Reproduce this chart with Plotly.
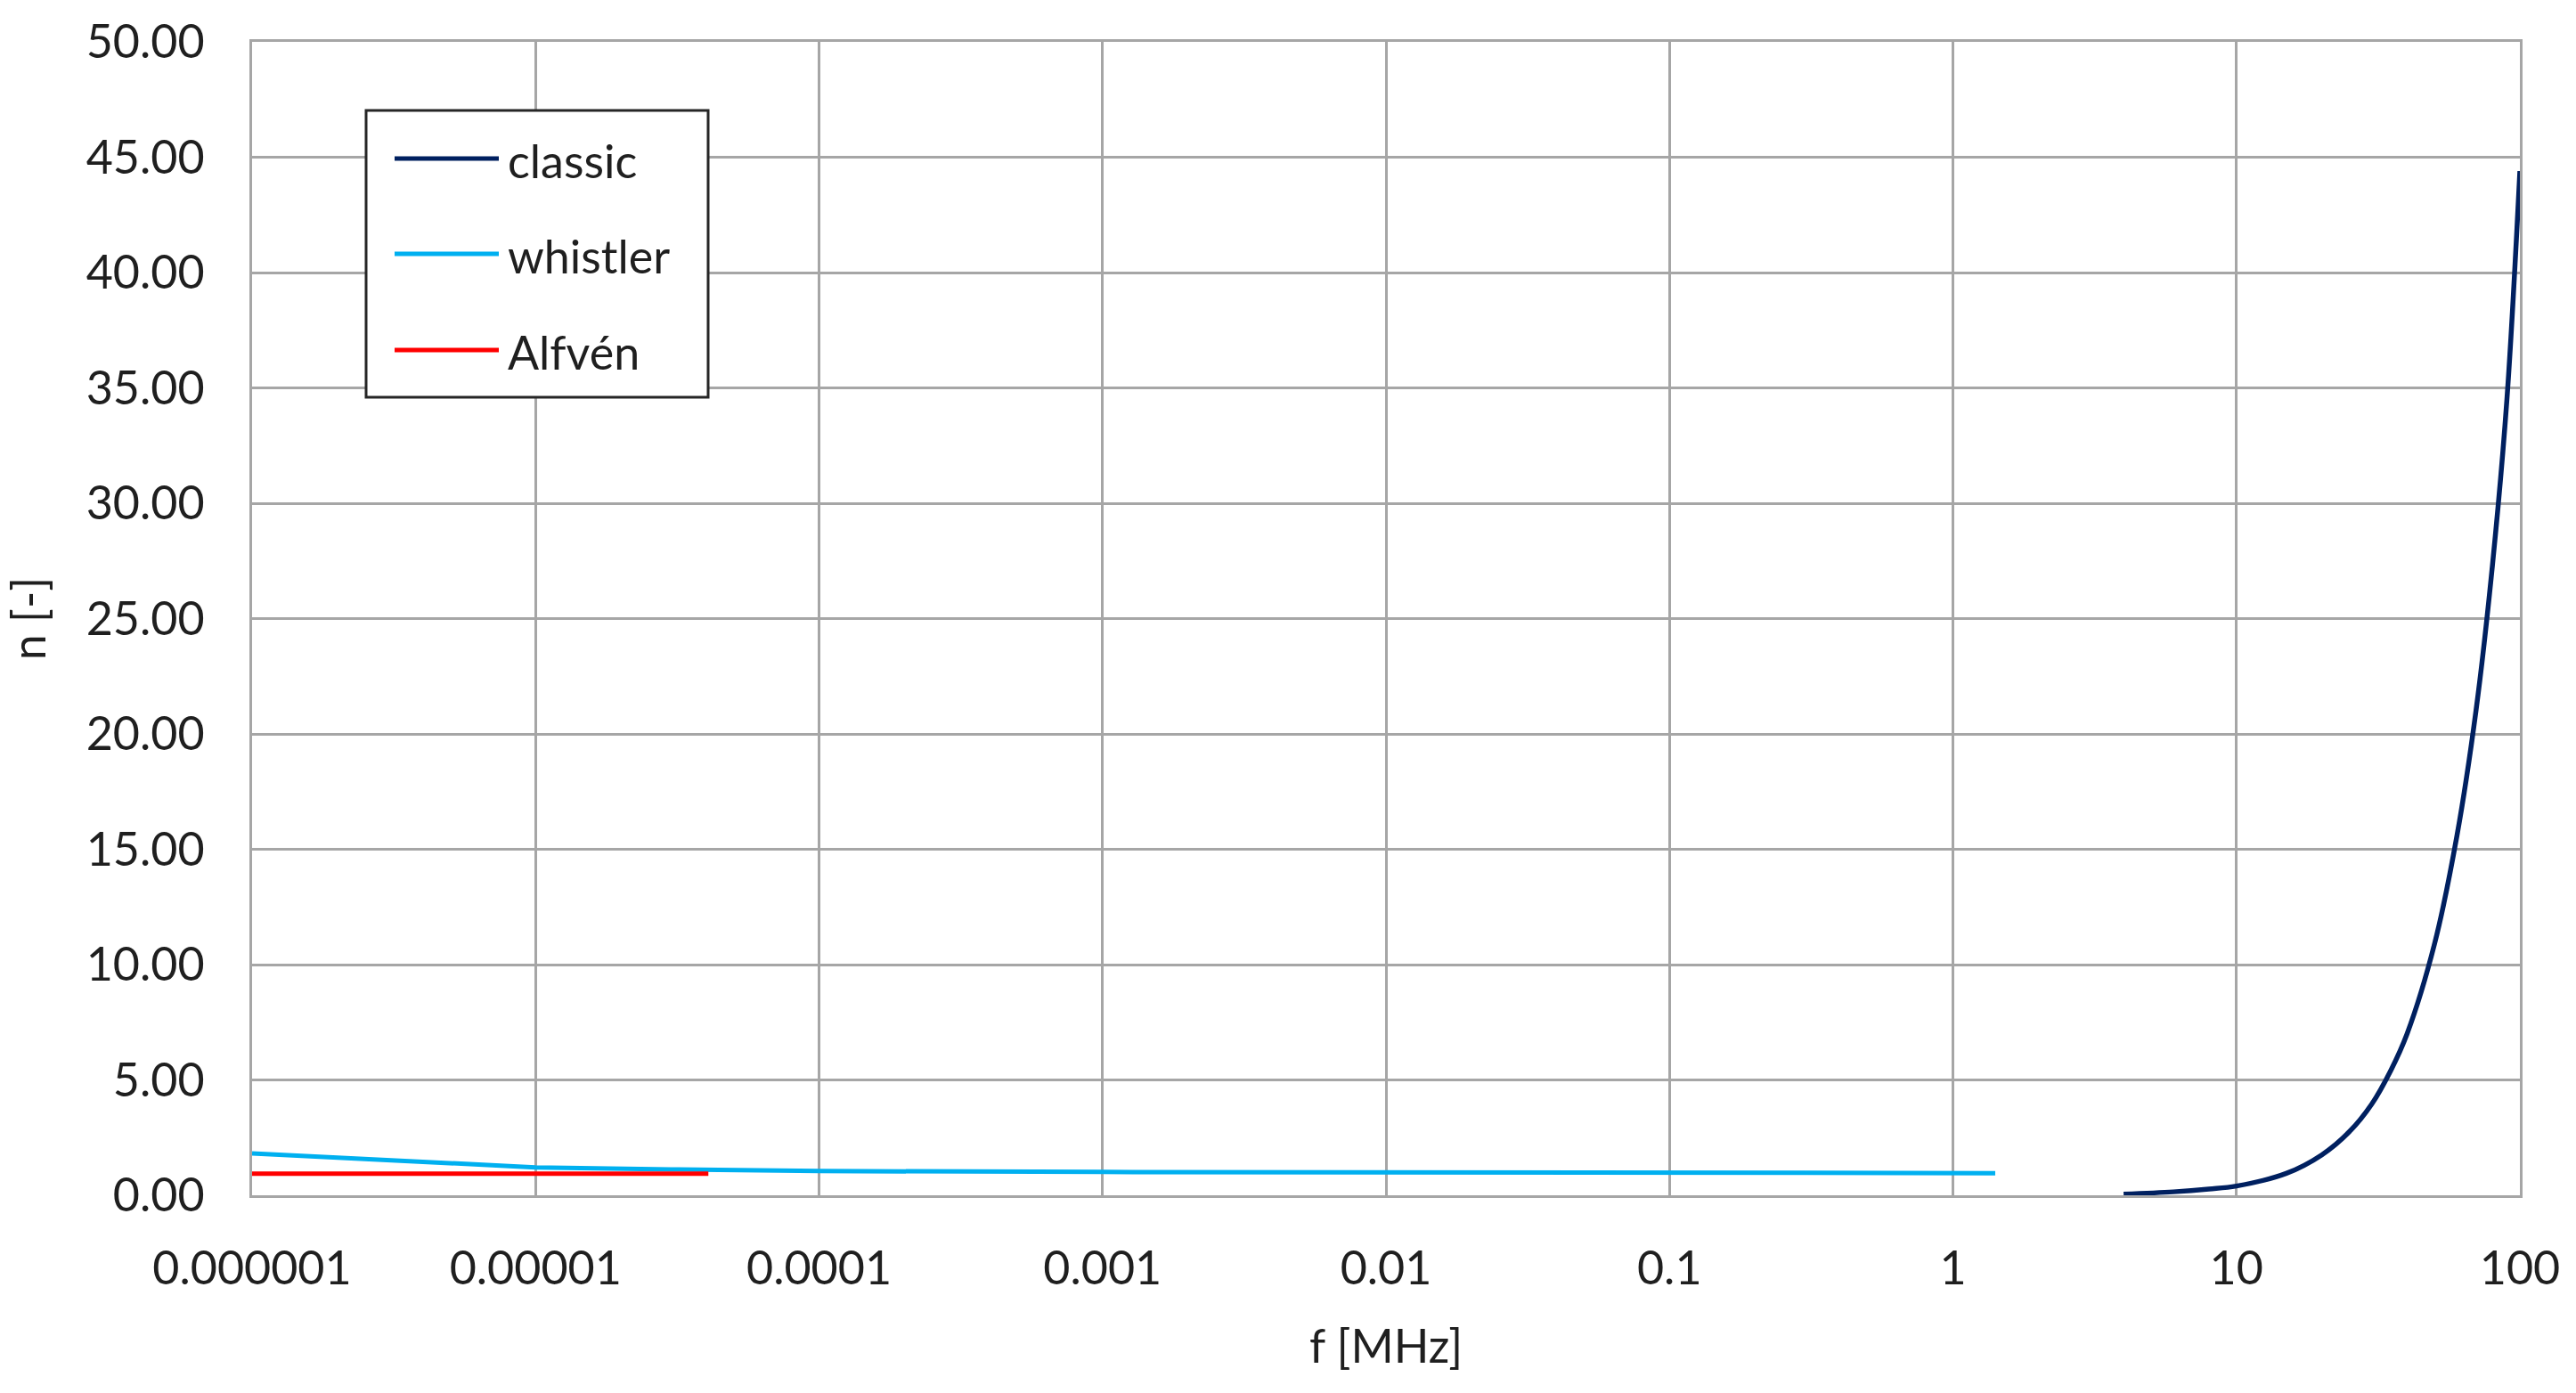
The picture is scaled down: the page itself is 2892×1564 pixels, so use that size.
import plotly.graph_objects as go

# ---------------- data ----------------
classic_f = [4, 6, 8, 10, 15, 20, 25, 30, 35, 40, 50, 60, 70, 80, 90, 100]
classic_n = [0.05, 0.15, 0.27, 0.40, 0.95, 1.75, 2.75, 3.95, 5.4, 7.0, 10.9, 15.6, 21.0, 27.3, 34.5, 44.4]

whistler_f = [0.000001, 0.00001, 0.00003, 0.0001, 0.001, 0.01, 0.1, 1, 1.41]
whistler_n = [1.81, 1.21, 1.12, 1.05, 1.01, 0.99, 0.97, 0.96, 0.96]

alfven_f = [0.000001, 0.0000407]
alfven_n = [0.94, 0.94]

x_tickvals = [0.000001, 0.00001, 0.0001, 0.001, 0.01, 0.1, 1, 10, 100]
x_ticktext = ["0.000001", "0.00001", "0.0001", "0.001", "0.01", "0.1", "1", "10", "100"]
y_tickvals = [0, 5, 10, 15, 20, 25, 30, 35, 40, 45, 50]
y_ticktext = ["0.00", "5.00", "10.00", "15.00", "20.00", "25.00", "30.00",
              "35.00", "40.00", "45.00", "50.00"]

series_names = ["classic", "whistler", "Alfvén"]
series_colors = ["#002060", "#00B0F0", "#FF0000"]

# ---------------- layout constants ----------------
W, H = 2892, 1564
L, R, T, B = 283, 2829, 47, 1342
FONT = "Lato"
FS = 52
TXT = "#1f1f1f"
GRID = "#a6a6a6"


def px2x(px):
    return (px - L) / (R - L)


def py2y(py):
    return (B - py) / (B - T)


fig = go.Figure()
fig.add_trace(go.Scatter(x=classic_f, y=classic_n, mode="lines", name=series_names[0],
                         line=dict(color=series_colors[0], width=5.5, shape="spline"),
                         showlegend=False))
fig.add_trace(go.Scatter(x=whistler_f, y=whistler_n, mode="lines", name=series_names[1],
                         line=dict(color=series_colors[1], width=5),
                         showlegend=False))
fig.add_trace(go.Scatter(x=alfven_f, y=alfven_n, mode="lines", name=series_names[2],
                         line=dict(color=series_colors[2], width=5),
                         showlegend=False))

# custom legend (box, line samples, labels)
shapes = [dict(type="rect", xref="paper", yref="paper",
               x0=px2x(411), x1=px2x(795), y0=py2y(446), y1=py2y(124),
               line=dict(color="#262626", width=3), fillcolor="white", layer="above")]
annotations = []
leg_y = [178, 285, 393]
for name, col, yy in zip(series_names, series_colors, leg_y):
    shapes.append(dict(type="line", xref="paper", yref="paper",
                       x0=px2x(443), x1=px2x(560), y0=py2y(yy), y1=py2y(yy),
                       line=dict(color=col, width=5), layer="above"))
    annotations.append(dict(text=name, xref="paper", yref="paper",
                            x=px2x(568), y=py2y(yy + 2), xanchor="left", yanchor="middle",
                            showarrow=False, font=dict(family=FONT, size=FS, color=TXT)))

fig.update_layout(
    width=W, height=H,
    margin=dict(l=L, r=W - R, t=T, b=H - B, autoexpand=False),
    paper_bgcolor="white", plot_bgcolor="white",
    font=dict(family=FONT, size=FS, color=TXT),
    shapes=shapes, annotations=annotations,
    showlegend=False,
)
fig.update_xaxes(
    type="log", range=[-6, 2], tickvals=x_tickvals, ticktext=x_ticktext,
    showgrid=True, gridcolor=GRID, gridwidth=2.5,
    showline=True, linecolor=GRID, linewidth=3, mirror=True,
    zeroline=False, ticks="", ticklabelstandoff=35,
    title=dict(text="f [MHz]", standoff=42, font=dict(family=FONT, size=FS, color=TXT)),
    tickfont=dict(family=FONT, size=FS, color=TXT),
)
fig.update_yaxes(
    range=[0, 50], tickvals=y_tickvals, ticktext=y_ticktext,
    showgrid=True, gridcolor=GRID, gridwidth=2.5,
    showline=True, linecolor=GRID, linewidth=3, mirror=True,
    zeroline=False, ticks="", ticklabelstandoff=40,
    title=dict(text="n [-]", standoff=30, font=dict(family=FONT, size=FS, color=TXT)),
    tickfont=dict(family=FONT, size=FS, color=TXT),
)

fig.write_html("out.html",
               config={"displayModeBar": False},
               post_script="document.body.style.margin='0';document.body.style.overflow='hidden';")
